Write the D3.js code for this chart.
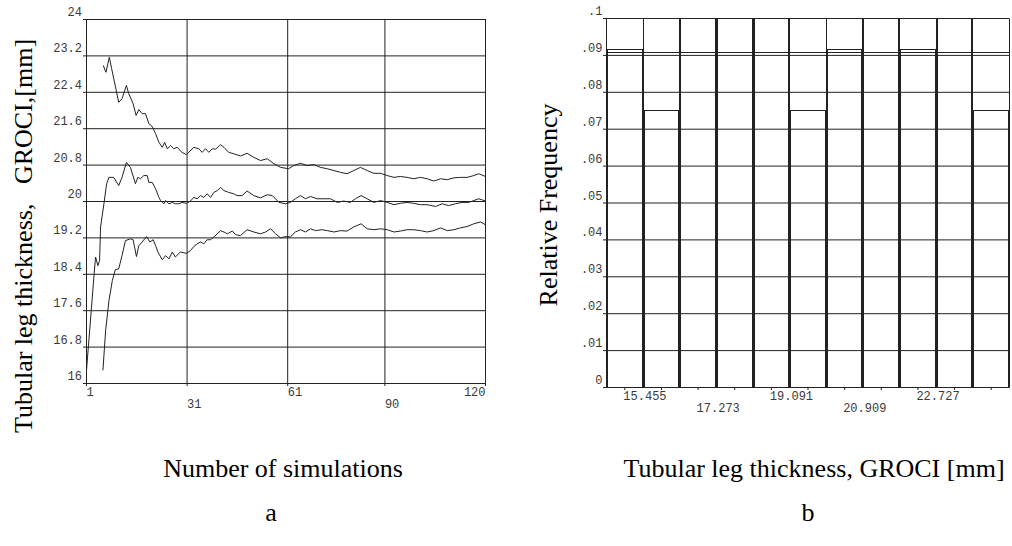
<!DOCTYPE html>
<html><head><meta charset="utf-8">
<script src="https://cdn.jsdelivr.net/npm/d3@7"></script>
<style>body{margin:0;background:#fff} svg{display:block}</style>
</head><body><svg id="c" width="1012" height="546"></svg>
<script>
// ---------- data: chart a ----------
const simTicks = [1, 31, 61, 90, 120];
const thickTicks = [16, 16.8, 17.6, 18.4, 19.2, 20, 20.8, 21.6, 22.4, 23.2, 24];
const thickTickLabels = ["16", "16.8", "17.6", "18.4", "19.2", "20", "20.8", "21.6", "22.4", "23.2", "24"];

const upperSim = [6.0,6.8,7.8,8.5,10.6,11.6,12.9,13.6,14.9,15.8,16.6,17.6,18.6,19.6,20.6,21.6,22.6,23.6,24.3,25.1,26.1,27.0,28.0,29.5,30.8,31.5,33.0,34.5,35.5,36.5,37.5,38.5,39.5,41.0,42.0,43.4,44.9,46.9,48.9,50.9,52.9,54.9,56.9,58.9,61.3,62.8,64.8,66.8,68.8,70.8,72.8,74.8,76.8,78.7,80.7,82.7,84.7,86.7,88.7,90.7,92.7,94.6,96.6,98.6,100.6,102.6,104.6,106.6,108.6,110.6,112.5,114.5,116.5,118.0,120];
const upperVal = [22.99,22.84,23.17,22.92,22.18,22.26,22.55,22.37,22.15,21.89,22.02,21.93,21.93,21.71,21.65,21.49,21.30,21.19,21.30,21.16,21.23,21.16,21.19,21.08,21.03,21.08,21.19,21.16,21.08,21.16,21.08,21.16,21.15,21.25,21.19,21.08,21.05,21.00,21.06,20.97,20.90,20.94,20.83,20.75,20.72,20.79,20.84,20.79,20.81,20.75,20.72,20.68,20.64,20.61,20.68,20.75,20.68,20.62,20.62,20.57,20.53,20.55,20.53,20.50,20.53,20.50,20.45,20.50,20.48,20.52,20.53,20.53,20.57,20.61,20.55];

const meanSim = [1,3.2,3.7,4.4,4.9,5.2,6.2,7.0,7.7,9.1,10.6,11.6,12.9,14.1,15.6,16.3,17.1,18.1,19.1,19.6,20.6,21.6,22.6,23.1,24.1,24.6,25.6,26.6,27.5,28.5,29.5,30.8,32.0,33.0,34.0,35.0,36.0,37.0,38.0,39.0,40.0,41.0,42.0,43.4,44.9,45.9,47.4,48.9,50.9,52.9,54.9,56.4,58.4,60.4,61.8,63.3,64.8,66.3,67.8,69.8,71.8,73.8,75.8,77.7,79.7,81.2,82.9,84.7,86.7,88.7,90.7,92.7,94.6,96.6,98.6,100.6,102.6,105.1,107.1,109.0,111.0,113.0,115.0,116.5,118.0,120];
const meanVal = [16.29,18.34,18.78,18.59,18.70,19.44,19.95,20.39,20.53,20.53,20.35,20.53,20.86,20.75,20.39,20.53,20.50,20.57,20.57,20.42,20.42,20.28,20.09,20.02,19.95,20.02,19.95,19.98,19.95,19.95,19.98,19.96,20.01,20.09,20.06,20.13,20.09,20.17,20.09,20.20,20.24,20.31,20.24,20.20,20.17,20.13,20.13,20.23,20.13,20.08,20.15,20.13,19.98,19.95,19.98,20.06,20.13,20.06,20.11,20.06,20.06,20.06,19.98,20.01,19.98,20.06,20.13,20.06,19.98,20.02,19.98,19.93,19.96,19.98,19.96,19.93,19.93,19.89,19.95,19.91,19.95,19.98,19.98,20.02,20.06,20.01];

const lowerSim = [5.9,6.7,7.7,8.7,9.6,10.6,11.6,12.6,14.1,14.9,15.9,16.6,17.6,18.9,19.9,20.9,21.6,22.3,23.6,24.6,25.6,26.6,27.5,29.0,30.8,32.0,33.0,34.0,35.0,36.0,37.0,38.0,39.0,40.0,41.0,42.0,43.0,44.5,45.5,46.9,48.9,50.9,52.9,54.4,55.9,57.4,58.9,60.4,61.8,63.3,64.8,66.3,67.8,69.3,71.3,72.8,74.8,76.8,78.7,80.7,82.9,84.7,86.7,88.7,90.7,92.7,94.6,96.6,98.6,100.6,102.6,104.6,106.6,108.6,110.6,112.5,114.5,116.5,118.5,120];
const lowerVal = [16.29,17.16,17.82,18.26,18.50,18.52,18.81,19.14,19.18,19.16,18.79,19.03,19.11,19.23,19.11,19.16,19.03,18.89,18.72,18.81,18.74,18.89,18.78,18.89,18.86,18.92,19.01,19.07,19.11,19.07,19.16,19.16,19.22,19.29,19.36,19.33,19.29,19.35,19.27,19.25,19.38,19.33,19.29,19.33,19.40,19.29,19.20,19.23,19.22,19.33,19.38,19.33,19.40,19.36,19.38,19.36,19.33,19.36,19.35,19.44,19.51,19.40,19.38,19.40,19.38,19.33,19.35,19.38,19.38,19.36,19.33,19.36,19.42,19.36,19.38,19.42,19.45,19.51,19.55,19.49];

// ---------- data: chart b ----------
const binStarts = [15, 15.909, 16.818, 17.727, 18.636, 19.545, 20.455, 21.364, 22.273, 23.182, 24.091];
const binWidth = 0.909;
const relFreq = [0.0917, 0.075, 0.1, 0.1, 0.1, 0.075, 0.0917, 0.1, 0.0917, 0.1, 0.075];
const uniformLevel = 0.0909;
const freqTicks = [0, 0.01, 0.02, 0.03, 0.04, 0.05, 0.06, 0.07, 0.08, 0.09, 0.1];
const freqTickLabels = ["0", ".01", ".02", ".03", ".04", ".05", ".06", ".07", ".08", ".09", ".1"];
const binLabelValues = [15.455, 17.273, 19.091, 20.909, 22.727];
const binLabels = ["15.455", "17.273", "19.091", "20.909", "22.727"];

// ---------- drawing ----------
const svg = d3.select("#c");
const LINE = "#222";
const TICKCOL = "#3a3a3a";
const TICKFONT = "Liberation Mono, DejaVu Sans Mono, monospace";
const TICKSIZE = 12;
const TITLEFONT = "Liberation Serif, Times New Roman, serif";

// ===== chart a =====
const xL = d3.scaleLinear().domain([1, 120]).range([86, 485]);
const yL = d3.scaleLinear().domain([16, 24]).range([383, 19]);
const gA = svg.append("g");

const yAxisA = gA.append("g").attr("transform", `translate(${xL(1)},0)`)
  .call(d3.axisLeft(yL).tickValues(thickTicks).tickSize(-(xL(120) - xL(1))).tickSizeOuter(0)
    .tickPadding(4).tickFormat((d, i) => thickTickLabels[i]));
gA.append("g").attr("transform", `translate(${xL(1)},0)`)
  .call(d3.axisLeft(yL).tickValues(thickTicks).tickSize(3).tickSizeOuter(0).tickFormat(""))
  .select(".domain").remove();
const xAxisA = gA.append("g").attr("transform", `translate(0,${yL(16)})`)
  .call(d3.axisBottom(xL).tickValues(simTicks).tickSize(-(yL(16) - yL(24))).tickSizeOuter(0)
    .tickFormat(d => String(d)));
gA.append("g").attr("transform", `translate(0,${yL(16)})`)
  .call(d3.axisBottom(xL).tickValues(simTicks).tickSize(3).tickSizeOuter(0).tickFormat(""))
  .select(".domain").remove();

yAxisA.selectAll("text").attr("dy", -3.5).attr("x", -4);
xAxisA.selectAll("text").attr("dy", 0)
  .attr("y", (d, i) => i % 2 === 0 ? 12.5 : 24.5)
  .attr("text-anchor", (d, i) => i === simTicks.length - 1 ? "end" : "start");

const lineA = d3.line().x(d => xL(d[0]) + 0.5).y(d => yL(d[1]) + 0.5);
[[upperSim, upperVal], [meanSim, meanVal], [lowerSim, lowerVal]].forEach(([s, v]) => {
  gA.append("path").datum(s.map((x, i) => [x, v[i]]))
    .attr("d", lineA).attr("fill", "none").attr("stroke", LINE).attr("stroke-width", 1);
});

// ===== chart b =====
const xR = d3.scaleLinear().domain([15, 25]).range([606, 1009]);
const yR = d3.scaleLinear().domain([0, 0.1]).range([387, 18]);
const gB = svg.append("g");

const yAxisB = gB.append("g").attr("transform", `translate(${xR(15)},0)`)
  .call(d3.axisLeft(yR).tickValues(freqTicks).tickSize(-(xR(25) - xR(15))).tickSizeOuter(0)
    .tickPadding(3.5).tickFormat((d, i) => freqTickLabels[i]));
gB.append("g").attr("transform", `translate(${xR(15)},0)`)
  .call(d3.axisLeft(yR).tickValues(freqTicks).tickSize(3).tickSizeOuter(0).tickFormat(""))
  .select(".domain").remove();
yAxisB.selectAll("text").attr("dy", -3.5).attr("x", -3.5);

const px = v => Math.round(v) + 0.5;
const edges = binStarts.concat([25]);
gB.append("g").selectAll("line").data(edges).join("line")
  .attr("x1", d => px(xR(d))).attr("x2", d => px(xR(d)))
  .attr("y1", px(yR(0.1))).attr("y2", px(yR(0)))
  .attr("stroke", LINE).attr("stroke-width", 1);

gB.append("line").attr("x1", px(xR(15))).attr("x2", px(xR(25)))
  .attr("y1", px(yR(uniformLevel))).attr("y2", px(yR(uniformLevel)))
  .attr("stroke", LINE).attr("stroke-width", 1);

gB.append("g").selectAll("rect").data(binStarts).join("rect")
  .attr("x", d => px(xR(d)) + 1)
  .attr("width", d => Math.round(xR(d + binWidth)) - Math.round(xR(d)) - 2)
  .attr("y", (d, i) => px(yR(relFreq[i])))
  .attr("height", (d, i) => px(yR(0)) - px(yR(relFreq[i])))
  .attr("fill", "none").attr("stroke", LINE).attr("stroke-width", 1);

const centers = binStarts.map(s => s + binWidth / 2);
gB.append("g").attr("transform", `translate(0,${yR(0)})`)
  .call(d3.axisBottom(xR).tickValues(centers).tickSize(3).tickSizeOuter(0).tickFormat(""));
gB.append("g").selectAll("text").data(binLabelValues).join("text")
  .attr("x", d => xR(d) - 1)
  .attr("y", (d, i) => yR(0) + (i % 2 === 0 ? 12.5 : 25))
  .attr("text-anchor", "start")
  .text((d, i) => binLabels[i]);

svg.selectAll(".tick line, .domain").attr("stroke", LINE).attr("stroke-width", 1);
svg.selectAll("text").attr("font-family", TICKFONT).attr("font-size", TICKSIZE).attr("fill", TICKCOL);

// ===== titles =====
function title(x, y, txt, rot) {
  svg.append("text")
    .attr("transform", `translate(${x},${y})` + (rot ? " rotate(-90)" : ""))
    .attr("text-anchor", "middle")
    .attr("font-family", TITLEFONT).attr("font-size", 26).attr("fill", "#000")
    .style("white-space", "pre")
    .text(txt);
}
title(32, 236, "Tubular leg thickness,   GROCI,[mm]", true);
title(557, 205, "Relative Frequency", true);
title(283, 477, "Number of simulations", false);
title(814, 477, "Tubular leg thickness, GROCI [mm]", false);
title(271, 521, "a", false);
title(808, 521, "b", false);
</script></body></html>
